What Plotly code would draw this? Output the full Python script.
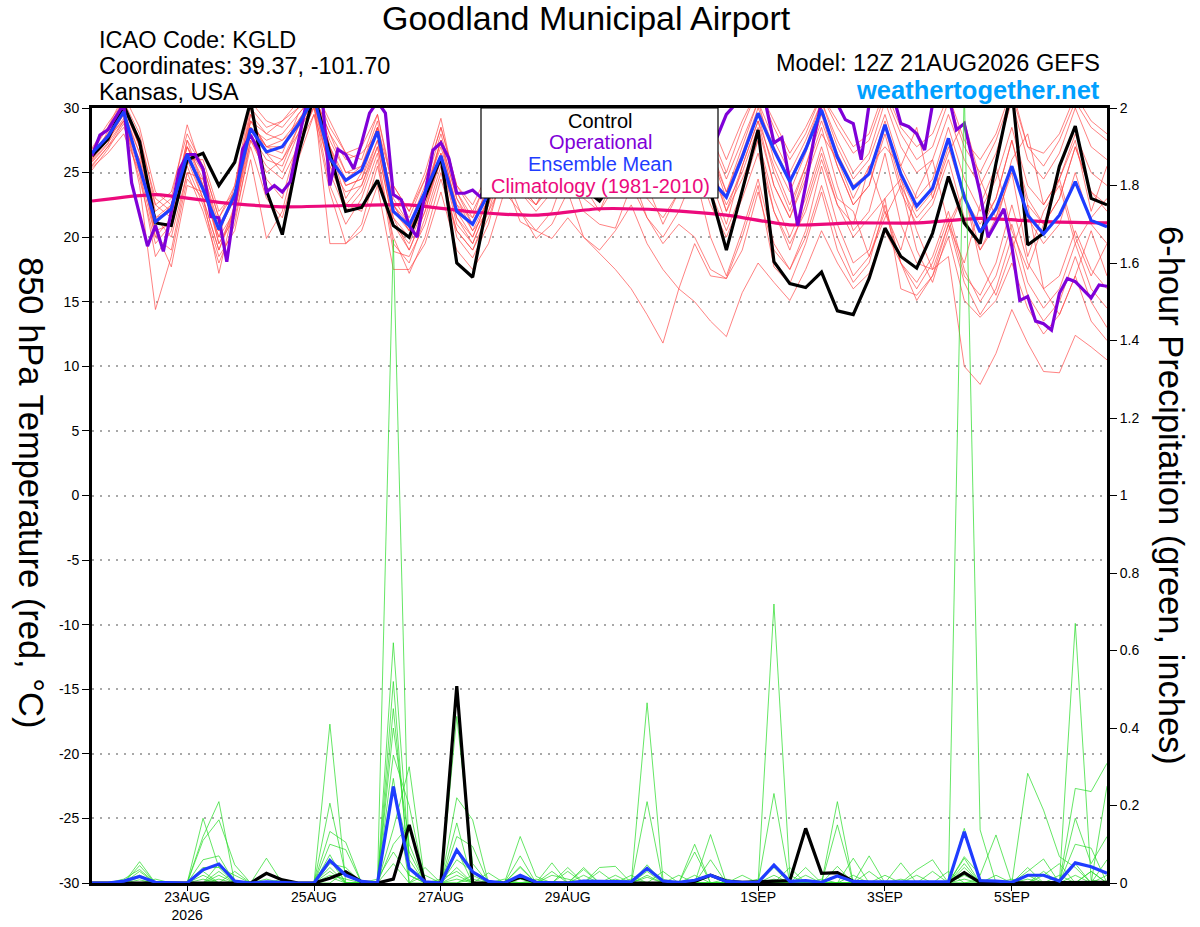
import pandas as pd
import plotly.graph_objects as go

# ---------------- data ----------------
times6 = pd.date_range("2026-08-21 12:00", periods=65, freq="6h")
times3 = pd.date_range("2026-08-21 12:00", periods=129, freq="3h")
clim_times = pd.date_range("2026-08-21 12:00", periods=17, freq="24h")

tick_dates = ["2026-08-23", "2026-08-25", "2026-08-27", "2026-08-29",
              "2026-09-01", "2026-09-03", "2026-09-05"]
tick_labels = ["23AUG<br>2026", "25AUG", "27AUG", "29AUG", "1SEP", "3SEP", "5SEP"]
temp_ticks = [-30, -25, -20, -15, -10, -5, 0, 5, 10, 15, 20, 25, 30]
temp_tick_labels = ["-30", "-25", "-20", "-15", "-10", "-5", "0", "5", "10", "15", "20", "25", "30"]
precip_ticks = [0, 0.2, 0.4, 0.6, 0.8, 1.0, 1.2, 1.4, 1.6, 1.8, 2.0]
precip_tick_labels = ["0", "0.2", "0.4", "0.6", "0.8", "1", "1.2", "1.4", "1.6", "1.8", "2"]

climatology = [22.8, 23.3, 22.7, 22.35, 22.45, 22.5, 21.95, 21.7, 22.2, 22.1,
               21.7, 20.95, 21.1, 21.1, 21.45, 21.2, 21.1]

control_temp = [26.3, 27.6, 30.2, 27.4, 21.1, 20.9, 26.0, 26.5, 24.0, 25.8,
                30.5, 23.6, 20.2, 26.4, 31.0, 26.5, 22.0, 22.3, 24.4, 20.9,
                20.0, 23.1, 26.2, 18.0, 16.9, 23.1, 25.5, 24.0, 24.5, 23.5,
                26.0, 23.8, 22.8, 24.5, 27.5, 25.0, 24.0, 25.0, 27.0, 23.5,
                19.0, 23.6, 28.3, 18.1, 16.4, 16.1, 17.3, 14.3, 14.0, 16.8,
                20.7, 18.5, 17.6, 20.3, 24.7, 21.1, 19.5, 25.7, 31.5, 19.4,
                20.3, 25.5, 28.6, 23.0, 22.5]

mean_temp = [26.5, 27.8, 29.7, 25.4, 21.2, 22.2, 26.4, 23.7, 20.6, 23.3,
             28.4, 26.6, 27.0, 28.7, 30.8, 26.1, 24.4, 25.2, 28.2, 22.0,
             20.9, 23.5, 26.3, 22.0, 21.0, 23.4, 25.5, 24.5, 24.8, 24.2,
             26.5, 24.5, 24.0, 25.0, 27.0, 25.0, 24.5, 25.0, 27.5, 24.5,
             23.1, 26.2, 29.6, 26.75, 24.3, 26.8, 29.85, 26.2, 23.8, 24.9,
             28.7, 24.9, 22.4, 23.8, 27.65, 23.1, 20.4, 22.2, 25.5, 21.7,
             20.25, 21.7, 24.3, 21.3, 20.8]

operational_temp = [26.3, 27.9, 28.3, 29.3, 30.3, 24.2, 21.8, 19.3, 20.9, 18.9,
                    22.0, 25.2, 26.4, 26.4, 25.3, 21.6, 21.5, 18.1, 22.4, 26.8,
                    27.9, 26.7, 23.5, 24.0, 23.5, 24.3, 27.3, 30.3, 31.0, 31.0,
                    24.0, 26.8, 26.4, 25.3, 27.3, 29.6, 30.5, 29.6, 23.3, 22.9,
                    20.9, 20.0, 23.4, 26.75, 27.3, 26.1, 23.4, 23.4, 23.65, 23.1,
                    24.5, 26.0, 27.5, 26.5, 25.0, 24.0, 24.5, 25.5, 27.0, 28.5,
                    28.0, 26.5, 25.0, 24.5, 25.0, 26.0, 27.5, 28.5, 27.5, 26.0,
                    25.0, 24.5, 25.0, 26.5, 28.0, 29.0, 28.0, 27.0, 26.5, 28.0,
                    29.5, 30.2, 31.0, 31.5, 31.0, 30.2, 27.3, 27.7, 24.3, 20.9,
                    24.0, 27.5, 30.5, 31.0, 30.3, 29.1, 28.8, 26.0, 30.3, 31.0,
                    31.5, 31.0, 28.8, 28.55, 28.0, 26.75, 30.3, 31.0, 31.0, 28.3,
                    28.8, 26.2, 23.4, 20.0, 21.1, 22.2, 19.3, 15.1, 15.4, 13.5,
                    13.3, 12.8, 15.65, 16.8, 16.55, 15.9, 15.3, 16.3, 16.2]

member_temps = [
    [26.0, 27.5, 29.5, 24.0, 14.4, 18.5, 24.5, 23.0, 19.0, 22.0,
     27.5, 25.0, 26.0, 28.0, 30.5, 25.0, 22.0, 23.5, 27.0, 21.0,
     19.5, 22.5, 26.5, 21.5, 20.0, 23.0, 27.0, 24.0, 22.5, 24.5,
     27.5, 25.0, 23.5, 26.0, 28.5, 25.5, 24.0, 26.0, 28.5, 24.5,
     21.0, 25.5, 29.0, 24.0, 21.5, 25.0, 28.5, 24.0, 20.5, 22.0,
     26.5, 21.0, 18.0, 17.5, 18.5, 10.0, 8.6, 11.0, 14.4, 11.8,
     9.6, 9.5, 12.4, 11.5, 10.5],
    [25.5, 27.0, 28.5, 26.0, 20.0, 19.0, 25.0, 24.5, 20.5, 23.5,
     29.0, 27.0, 26.5, 29.5, 31.0, 27.0, 24.0, 24.5, 28.5, 22.5,
     20.5, 23.0, 27.5, 23.0, 20.5, 22.0, 24.5, 21.2, 20.5, 19.9,
     21.5, 20.0, 18.75, 17.5, 16.0, 14.0, 11.8, 16.0, 15.0, 13.5,
     12.3, 15.7, 18.0, 16.5, 15.1, 17.5, 20.5, 18.0, 16.0, 17.2,
     20.5, 18.0, 15.1, 17.0, 20.0, 15.1, 13.8, 15.1, 18.0, 14.5,
     12.5, 14.0, 17.0, 13.5, 12.0],
    [26.8, 28.5, 30.5, 28.0, 22.5, 21.5, 27.5, 25.5, 21.5, 24.0,
     30.5, 29.0, 28.5, 30.0, 31.5, 29.0, 26.5, 26.0, 29.5, 23.5,
     21.5, 24.5, 28.5, 24.0, 22.0, 24.5, 29.0, 27.0, 25.5, 27.0,
     30.5, 28.0, 26.5, 28.0, 31.0, 28.5, 27.0, 28.5, 31.0, 28.0,
     25.0, 28.5, 31.5, 29.0, 26.5, 28.5, 31.0, 28.5, 26.5, 27.5,
     31.0, 28.0, 26.0, 27.0, 30.5, 27.0, 25.0, 27.5, 31.0, 27.0,
     25.5, 27.5, 30.5, 28.5, 27.5],
    [26.2, 27.8, 29.0, 25.0, 18.5, 20.5, 26.5, 23.0, 17.2, 22.5,
     28.0, 24.5, 23.0, 27.5, 30.0, 24.0, 21.0, 23.0, 26.5, 19.5,
     18.0, 21.5, 25.5, 20.0, 18.4, 21.0, 25.5, 23.5, 22.5, 25.0,
     28.0, 25.5, 24.5, 26.5, 29.5, 26.0, 25.0, 26.5, 29.0, 25.5,
     22.0, 24.5, 27.5, 22.0, 19.0, 22.5, 26.5, 22.5, 21.0, 25.5,
     22.0, 19.0, 23.5, 26.0, 21.0, 18.0, 22.5, 25.5, 20.5, 17.5,
     21.0, 24.5, 20.0, 17.0, 19.5],
    [25.8, 27.2, 30.2, 27.0, 22.0, 23.0, 28.7, 25.0, 21.0, 23.0,
     29.5, 28.0, 27.5, 29.0, 30.8, 27.5, 25.0, 25.5, 29.0, 22.0,
     20.5, 23.5, 27.0, 22.5, 21.5, 23.5, 27.5, 25.5, 24.0, 25.5,
     29.0, 26.5, 25.0, 27.0, 30.0, 27.5, 26.0, 27.0, 30.0, 27.0,
     23.5, 27.0, 30.5, 27.5, 25.0, 27.5, 30.5, 27.0, 24.5, 26.0,
     29.5, 25.5, 23.0, 24.5, 28.5, 24.5, 22.0, 24.5, 28.5, 24.0,
     22.5, 24.5, 28.0, 25.0, 24.0],
    [26.5, 28.0, 29.8, 26.5, 21.0, 22.5, 27.0, 24.5, 19.5, 21.5,
     27.0, 23.0, 21.5, 26.0, 29.5, 23.5, 19.5, 21.0, 25.5, 20.0,
     17.2, 20.0, 24.5, 20.5, 19.0, 22.0, 26.0, 24.5, 23.0, 24.0,
     27.0, 24.0, 22.0, 25.0, 25.0, 21.5, 19.5, 21.0, 20.0, 17.5,
     16.8, 20.0, 24.0, 17.7, 16.4, 19.5, 23.5, 19.0, 16.5, 18.0,
     22.5, 18.0, 16.5, 18.5, 22.0, 17.5, 15.0, 17.0, 21.0, 16.5,
     14.5, 16.0, 19.5, 16.0, 14.5],
    [25.2, 26.8, 28.8, 24.5, 19.5, 21.0, 25.5, 22.5, 18.5, 20.5,
     26.0, 19.9, 22.0, 27.0, 30.2, 26.0, 22.5, 24.0, 27.5, 21.5,
     19.0, 22.0, 26.0, 21.0, 19.5, 22.5, 26.5, 25.0, 24.0, 26.0,
     28.5, 26.0, 25.5, 27.5, 30.5, 27.0, 25.5, 27.5, 30.5, 26.5,
     23.0, 26.0, 29.5, 25.0, 22.0, 25.5, 29.0, 25.5, 22.5, 24.0,
     28.0, 23.5, 21.0, 22.5, 26.0, 21.5, 19.0, 21.0, 25.5, 21.5,
     19.5, 21.0, 25.0, 21.0, 19.5],
    [26.0, 28.2, 30.0, 27.5, 23.0, 22.0, 26.0, 26.0, 22.0, 23.5,
     28.5, 27.5, 28.0, 29.5, 31.0, 28.0, 26.0, 26.5, 28.0, 23.0,
     21.0, 23.5, 27.5, 22.0, 20.0, 23.0, 27.0, 25.0, 23.5, 25.0,
     28.5, 25.5, 24.0, 26.0, 29.0, 26.0, 24.5, 26.0, 29.0, 25.5,
     22.5, 25.0, 28.5, 24.0, 21.5, 24.5, 28.0, 26.0, 23.0, 25.5,
     27.0, 25.5, 28.5, 23.0, 26.5, 29.0, 24.5, 21.5, 26.0, 28.0,
     22.5, 24.5, 27.5, 22.0, 25.5],
    [26.4, 27.5, 29.2, 25.5, 20.5, 17.7, 24.0, 23.5, 20.0, 22.0,
     28.0, 26.0, 25.5, 28.5, 30.5, 19.5, 19.5, 20.5, 24.0, 17.5,
     17.5, 19.5, 23.5, 19.0, 17.5, 19.5, 23.5, 22.0, 19.9, 21.0,
     23.5, 20.0, 19.0, 20.5, 22.5, 19.5, 17.5, 16.0, 19.5, 17.0,
     16.8, 19.0, 23.5, 19.0, 17.5, 20.5, 25.5, 21.0, 18.0, 19.0,
     23.0, 16.0, 15.5, 17.0, 21.0, 16.5, 14.0, 16.0, 20.0, 15.5,
     13.5, 15.0, 18.5, 15.0, 13.0],
    [26.6, 28.5, 31.0, 28.5, 23.5, 22.5, 27.0, 24.0, 20.0, 24.0,
     29.5, 26.5, 25.0, 28.0, 31.5, 27.0, 23.0, 25.0, 28.5, 24.0,
     22.0, 25.0, 29.2, 23.5, 21.5, 25.0, 29.5, 27.5, 26.0, 27.5,
     31.0, 28.5, 27.0, 29.0, 31.5, 29.0, 27.5, 29.0, 31.5, 29.0,
     26.0, 29.0, 31.5, 28.5, 26.0, 28.0, 31.0, 29.0, 27.0, 28.0,
     31.5, 28.5, 27.0, 28.0, 31.0, 27.5, 26.0, 28.0, 31.5, 27.0,
     26.5, 28.0, 31.0, 29.0, 28.0],
    [25.6, 27.0, 29.0, 26.0, 21.5, 20.0, 25.0, 22.0, 18.0, 21.0,
     27.5, 25.5, 24.5, 27.0, 29.5, 25.5, 22.5, 22.0, 26.0, 18.9,
     18.5, 21.0, 25.0, 20.5, 19.0, 21.5, 25.0, 22.0, 20.5, 22.0,
     25.5, 22.0, 21.0, 20.7, 24.0, 21.5, 20.0, 22.0, 25.0, 20.0,
     17.0, 20.5, 24.5, 19.5, 17.5, 20.0, 24.0, 20.0, 17.0, 18.5,
     22.0, 18.0, 16.0, 18.0, 21.5, 17.0, 15.5, 18.0, 22.5, 18.0,
     16.0, 17.0, 20.5, 17.5, 16.0],
    [26.9, 28.8, 30.5, 27.0, 21.5, 22.0, 27.5, 24.0, 20.5, 23.0,
     29.0, 28.0, 29.0, 30.0, 31.0, 28.0, 25.0, 25.0, 28.5, 22.5,
     21.0, 24.0, 28.0, 23.5, 21.0, 24.0, 28.0, 26.0, 24.5, 26.5,
     29.5, 27.0, 26.0, 28.0, 30.5, 28.0, 26.5, 28.0, 30.5, 27.5,
     24.5, 27.5, 30.5, 26.0, 23.5, 26.5, 30.0, 26.5, 24.0, 25.0,
     29.0, 24.5, 22.0, 23.5, 27.5, 23.0, 20.5, 23.0, 27.5, 22.5,
     21.0, 23.0, 27.0, 23.5, 22.5],
    [25.4, 26.5, 28.0, 25.0, 20.0, 21.5, 26.0, 23.0, 19.0, 22.5,
     28.5, 27.0, 27.5, 28.5, 30.0, 25.5, 23.5, 24.0, 27.0, 21.0,
     19.0, 22.0, 26.5, 22.5, 20.5, 23.0, 26.5, 23.5, 22.0, 23.5,
     26.0, 23.0, 22.0, 24.0, 26.5, 23.0, 21.5, 23.5, 26.0, 22.5,
     20.0, 23.0, 26.5, 22.0, 19.5, 22.0, 26.0, 22.5, 20.0, 21.5,
     23.0, 24.5, 20.5, 17.5, 21.0, 23.5, 19.0, 21.5, 25.0, 18.5,
     22.0, 24.0, 19.5, 21.5, 23.0],
    [26.1, 27.6, 29.5, 26.5, 22.5, 23.5, 28.0, 25.5, 21.5, 23.5,
     30.0, 28.5, 29.0, 30.5, 31.5, 28.5, 26.5, 27.0, 29.5, 24.0,
     22.0, 24.5, 28.5, 24.0, 22.5, 25.0, 28.5, 26.5, 25.0, 26.0,
     29.0, 26.5, 25.5, 27.5, 30.0, 27.0, 26.0, 27.5, 30.0, 26.5,
     23.5, 26.5, 30.0, 27.0, 24.5, 27.0, 30.5, 27.5, 25.0, 26.5,
     30.5, 27.0, 25.0, 26.0, 29.5, 26.0, 24.0, 26.5, 30.5, 26.0,
     24.5, 26.5, 30.0, 27.0, 26.0],
    [25.9, 27.3, 29.0, 25.5, 20.5, 21.0, 26.0, 24.0, 19.5, 22.0,
     28.5, 26.5, 26.0, 28.5, 30.5, 26.5, 24.0, 24.5, 27.5, 21.5,
     20.0, 22.5, 26.0, 21.5, 19.5, 22.5, 26.0, 24.0, 22.5, 24.0,
     27.0, 24.0, 23.0, 25.5, 28.0, 24.0, 21.0, 23.5, 27.0, 23.5,
     20.5, 23.5, 27.5, 23.0, 20.0, 23.0, 27.0, 23.0, 22.0, 18.5,
     21.5, 24.0, 19.0, 16.5, 20.5, 23.5, 18.0, 15.5, 19.0, 22.5,
     16.0, 14.0, 17.0, 20.5, 17.0],
    [26.3, 28.0, 30.0, 27.0, 21.5, 22.5, 27.0, 25.0, 20.5, 23.0,
     29.0, 27.0, 27.0, 29.0, 31.0, 27.0, 24.5, 25.5, 28.5, 22.5,
     20.5, 23.0, 27.5, 23.0, 21.0, 24.0, 28.0, 25.5, 24.0, 25.5,
     28.5, 25.5, 24.5, 26.5, 29.5, 26.5, 25.0, 26.5, 29.5, 26.0,
     22.0, 25.5, 29.0, 25.5, 22.5, 25.5, 29.5, 25.5, 22.5, 24.0,
     28.5, 24.0, 21.5, 23.0, 27.0, 23.0, 21.0, 23.0, 27.5, 23.0,
     21.0, 23.0, 27.0, 23.5, 22.0],
]

control_precip = [0, 0, 0, 0, 0, 0, 0, 0, 0, 0,
                  0, 0.025, 0.008, 0, 0, 0.012, 0.029, 0.003, 0, 0.01,
                  0.15, 0, 0, 0.508, 0, 0, 0, 0.015, 0.002, 0,
                  0, 0, 0, 0, 0, 0, 0, 0, 0.004, 0.02,
                  0.005, 0.002, 0.003, 0.004, 0.006, 0.141, 0.025, 0.027, 0.004, 0.001,
                  0.001, 0.001, 0.001, 0.001, 0.001, 0.027, 0.001, 0, 0, 0,
                  0, 0, 0, 0, 0.002]

mean_precip = [0, 0, 0.005, 0.017, 0.002, 0, 0, 0.034, 0.049, 0.005,
               0, 0.003, 0.001, 0, 0, 0.058, 0.02, 0.004, 0, 0.249,
               0.038, 0.003, 0, 0.085, 0.029, 0.004, 0, 0.02, 0.002, 0.001,
               0, 0.005, 0.004, 0.003, 0.003, 0.038, 0.005, 0.002, 0.007, 0.02,
               0.004, 0.002, 0.002, 0.046, 0.004, 0.006, 0.002, 0.018, 0.004, 0.003,
               0.003, 0.003, 0.003, 0.004, 0.003, 0.132, 0.006, 0.005, 0.002, 0.02,
               0.02, 0.005, 0.052, 0.042, 0.025]

# ensemble member precipitation: {6-hour step index: inches}, all other steps are 0
member_precip = [
    {3: .055, 7: .12, 8: .21, 15: .41, 19: 1.66, 20: .02, 24: .02, 27: .04, 35: .03, 43: .02, 55: .01, 59: .02},
    {3: .045, 7: .167, 8: .04, 15: .206, 16: .02, 19: .62, 20: .06, 23: .43, 24: .05, 29: .052, 35: .465, 36: .01, 47: .21, 55: 2.05, 56: .137},
    {2: .01, 3: .035, 7: .11, 8: .163, 9: .047, 15: .133, 16: .105, 19: .52, 23: .22, 24: .163, 31: .04, 39: .125, 43: .72, 44: .02, 62: .67, 63: .008},
    {3: .02, 7: .06, 8: .07, 11: .064, 15: .1, 16: .086, 19: .45, 20: .04, 23: .155, 27: .12, 28: .017, 38: .1, 47: .15, 55: .141, 59: .283, 60: .188, 61: .068, 62: .04, 64: .02},
    {4: .01, 7: .04, 8: .04, 9: .02, 15: .073, 19: .40, 20: .1, 23: .12, 24: .094, 27: .07, 32: .04, 33: .043, 43: .231, 48: .064, 55: .068, 56: .02, 57: .124, 62: .244, 63: .236, 64: .309},
    {3: .015, 8: .03, 12: .01, 15: .05, 16: .04, 19: .33, 20: .2, 23: .086, 25: .026, 27: .043, 30: .04, 35: .21, 39: .06, 45: .04, 49: .07, 55: .064, 62: .167, 63: .05, 64: .12},
    {7: .03, 9: .03, 15: .03, 19: .27, 21: .04, 23: .06, 24: .03, 29: .03, 31: .035, 35: .047, 38: .08, 43: .04, 47: .043, 51: .052, 55: .04, 59: .03, 60: .062, 62: .05, 64: .25},
    {3: .008, 8: .02, 15: .02, 16: .01, 19: .25, 20: .08, 23: .04, 28: .01, 30: .03, 34: .02, 36: .03, 42: .01, 45: .02, 52: .034, 53: .06, 55: .03, 58: .01, 60: .02, 61: .05, 63: .03},
    {7: .02, 11: .01, 16: .03, 19: .14, 20: .3, 22: .01, 23: .03, 27: .02, 32: .03, 35: .02, 40: .01, 44: .04, 50: .02, 54: .03, 57: .02, 59: .04, 62: .1, 63: .09},
    {3: .03, 8: .01, 15: .015, 19: .10, 20: .15, 23: .02, 26: .01, 31: .02, 33: .02, 37: .02, 41: .02, 46: .01, 49: .03, 52: .02, 55: .02, 60: .03, 64: .06},
    {8: .05, 15: .04, 18: .01, 19: .08, 20: .02, 24: .01, 29: .02, 30: .01, 34: .01, 39: .02, 43: .01, 48: .02, 53: .03, 56: .01, 59: .01, 62: .02},
    {7: .01, 15: .06, 19: .05, 21: .02, 23: .01, 27: .01, 33: .01, 35: .015, 38: .02, 47: .02, 51: .01, 55: .05, 61: .02, 63: .03},
]

# ---------------- styles ----------------
FONT = "Liberation Sans, Arial, Helvetica, sans-serif"
C_RED = "rgba(255,70,70,0.85)"
C_GREEN = "rgba(40,220,40,0.9)"
C_CONTROL = "#000000"
C_OPER = "#7f00d8"
C_MEAN = "#1f3cff"
C_CLIM = "#ec0a7c"

fig = go.Figure()

for m in member_temps:
    fig.add_trace(go.Scatter(x=times6, y=m, mode="lines", yaxis="y",
                             line=dict(color=C_RED, width=0.8), hoverinfo="skip"))

for m in member_precip:
    vals = [m.get(i, 0.0) for i in range(len(times6))]
    fig.add_trace(go.Scatter(x=times6, y=vals, mode="lines", yaxis="y2",
                             line=dict(color=C_GREEN, width=0.8), hoverinfo="skip"))

fig.add_trace(go.Scatter(x=clim_times, y=climatology, mode="lines", yaxis="y",
                         line=dict(color=C_CLIM, width=3.2, shape="spline", smoothing=0.6)))
fig.add_trace(go.Scatter(x=times6, y=control_temp, mode="lines", yaxis="y",
                         line=dict(color=C_CONTROL, width=3.2)))
fig.add_trace(go.Scatter(x=times3, y=operational_temp, mode="lines", yaxis="y",
                         line=dict(color=C_OPER, width=3.2)))
fig.add_trace(go.Scatter(x=times6, y=mean_temp, mode="lines", yaxis="y",
                         line=dict(color=C_MEAN, width=3.2)))
fig.add_trace(go.Scatter(x=times6, y=control_precip, mode="lines", yaxis="y2",
                         line=dict(color=C_CONTROL, width=3.2)))
fig.add_trace(go.Scatter(x=times6, y=mean_precip, mode="lines", yaxis="y2",
                         line=dict(color=C_MEAN, width=3.2)))

# ---------------- layout ----------------
L, R, T, B = 92, 93, 108, 44
W, H = 1200, 927
pw, ph = W - L - R, H - T - B


def px(x):
    return (x - L) / pw


def py(y):
    return (H - B - y) / ph


fig.update_layout(
    width=W, height=H,
    margin=dict(l=L, r=R, t=T, b=B, pad=0, autoexpand=False),
    paper_bgcolor="white", plot_bgcolor="white",
    showlegend=False,
    font=dict(family=FONT, color="black", size=14),
    xaxis=dict(
        type="date", automargin=False,
        range=["2026-08-21 12:00", "2026-09-06 12:00"],
        tickvals=tick_dates, ticktext=tick_labels,
        ticks="outside", ticklen=5, tickwidth=1, tickcolor="black",
        showgrid=False, showline=True, linecolor="black", linewidth=3, mirror=True,
        tickfont=dict(size=14, family=FONT), zeroline=False,
    ),
    yaxis=dict(
        range=[-30, 30], tickvals=temp_ticks, ticktext=temp_tick_labels, automargin=False,
        ticks="outside", ticklen=7, tickwidth=1.2, tickcolor="black",
        showgrid=True, gridcolor="#a8a8a8", griddash="2px,6px", gridwidth=1.5,
        showline=True, linecolor="black", linewidth=3, zeroline=False,
        tickfont=dict(size=14, family=FONT),
    ),
    yaxis2=dict(
        range=[0, 2], tickvals=precip_ticks, ticktext=precip_tick_labels, automargin=False,
        overlaying="y", side="right",
        ticks="outside", ticklen=7, tickwidth=1.2, tickcolor="black",
        showgrid=False, showline=True, linecolor="black", linewidth=3, zeroline=False,
        tickfont=dict(size=14, family=FONT),
    ),
)
try:
    fig.update_xaxes(ticklabelstandoff=-6)
except Exception:
    pass

# legend box
fig.add_shape(type="rect", xref="paper", yref="paper",
              x0=px(481), x1=px(718), y0=py(198), y1=py(108),
              fillcolor="white", line=dict(color="black", width=1.2), layer="above")
legend_items = [("Control", C_CONTROL, 121), ("Operational", C_OPER, 142),
                ("Ensemble Mean", C_MEAN, 164), ("Climatology (1981-2010)", C_CLIM, 186)]
for txt, col, yy in legend_items:
    fig.add_annotation(text=txt, xref="paper", yref="paper", x=px(600), y=py(yy),
                       xanchor="center", yanchor="middle", showarrow=False,
                       font=dict(size=20, color=col, family=FONT))

# header texts
fig.add_annotation(text="Goodland Municipal Airport", xref="paper", yref="paper",
                   x=px(586), y=py(18), xanchor="center", yanchor="middle",
                   showarrow=False, font=dict(size=34, family=FONT))
for txt, yy in [("ICAO Code: KGLD", 40), ("Coordinates: 39.37, -101.70", 66), ("Kansas, USA", 92)]:
    fig.add_annotation(text=txt, xref="paper", yref="paper", x=px(97), y=py(yy),
                       xanchor="left", yanchor="middle", showarrow=False,
                       font=dict(size=23.5, family=FONT))
fig.add_annotation(text="Model: 12Z 21AUG2026 GEFS", xref="paper", yref="paper",
                   x=px(1102), y=py(63), xanchor="right", yanchor="middle",
                   showarrow=False, font=dict(size=23.5, family=FONT))
fig.add_annotation(text="<b>weathertogether.net</b>", xref="paper", yref="paper",
                   x=px(1102), y=py(90), xanchor="right", yanchor="middle",
                   showarrow=False, font=dict(size=25.5, family=FONT, color="#00a0ff"))

# axis titles (rotated, reading top-to-bottom)
fig.add_annotation(text="850 hPa Temperature (red, °C)", xref="paper", yref="paper",
                   x=px(31), y=py(492), xanchor="center", yanchor="middle",
                   textangle=90, showarrow=False, font=dict(size=34.5, family=FONT))
fig.add_annotation(text="6-hour Precipitation (green, inches)", xref="paper", yref="paper",
                   x=px(1171), y=py(495), xanchor="center", yanchor="middle",
                   textangle=90, showarrow=False, font=dict(size=34.5, family=FONT))

fig.write_html("out.html", config={"displayModeBar": False},
               post_script="document.body.style.margin='0px';document.body.style.overflow='hidden';")
